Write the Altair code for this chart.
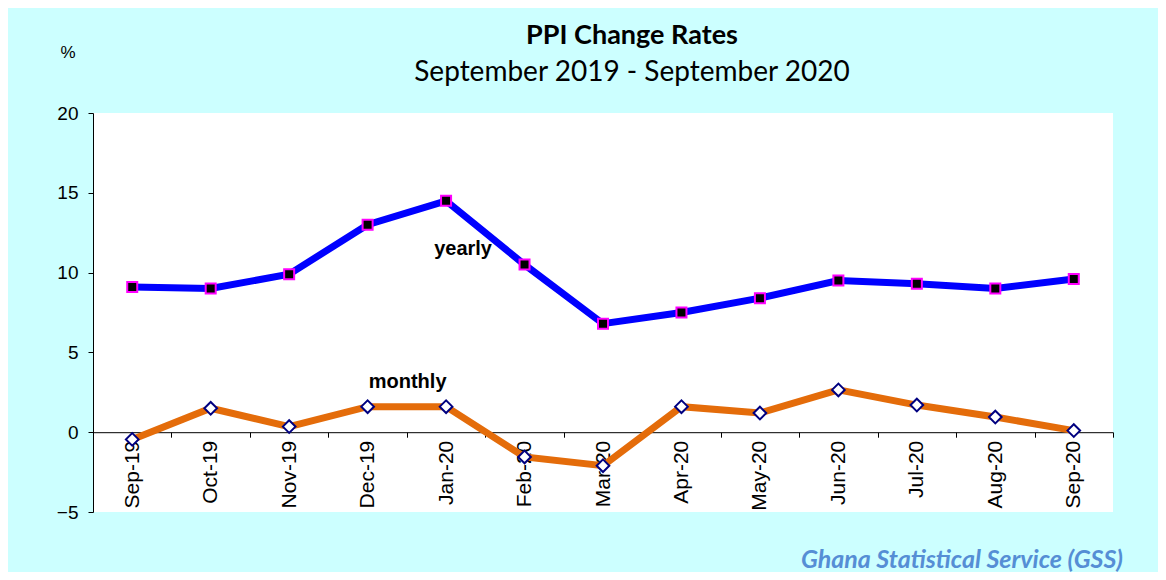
import altair as alt
import pandas as pd

months = ["Sep-19", "Oct-19", "Nov-19", "Dec-19", "Jan-20", "Feb-20", "Mar-20",
          "Apr-20", "May-20", "Jun-20", "Jul-20", "Aug-20", "Sep-20"]
yearly = [9.1, 9.0, 9.9, 13.0, 14.5, 10.5, 6.8, 7.5, 8.4, 9.5, 9.3, 9.0, 9.6]
monthly = [-0.45, 1.5, 0.35, 1.6, 1.6, -1.55, -2.1, 1.6, 1.2, 2.65, 1.7, 0.95, 0.1]
y_ticks = [-5, 0, 5, 10, 15, 20]

W, H = 1020, 399
ymin, ymax = -5, 20

dy = pd.DataFrame({"month": months, "value": yearly})
dm = pd.DataFrame({"month": months, "value": monthly})

x_enc = alt.X("month:N", sort=months,
              scale=alt.Scale(type="band", paddingInner=0, paddingOuter=0),
              axis=alt.Axis(title=None, labelAngle=-90, labelFont="Liberation Sans",
                            labelFontSize=21, labelColor="black", labelPadding=3,
                            domainColor="black", domainWidth=1, tickColor="black",
                            tickSize=5, tickBand="extent", zindex=0,
                            offset=-H * (0 - ymin) / (ymax - ymin)))
y_enc = alt.Y("value:Q", scale=alt.Scale(domain=[ymin, ymax], nice=False, zero=False),
              axis=alt.Axis(values=y_ticks, title=None,
                            labelFont="Liberation Sans", labelFontSize=19, labelColor="black",
                            labelPadding=10, domainColor="black", tickColor="black",
                            tickSize=5, grid=False, zindex=0))

base_y = alt.Chart(dy).encode(x=x_enc, y=y_enc)
base_m = alt.Chart(dm).encode(x=x_enc, y=y_enc)

line_y = base_y.mark_line(color="#0000FF", strokeWidth=7)
pts_y = base_y.mark_point(shape="square", filled=True, fill="black", stroke="#FF00FF",
                          strokeWidth=2, size=100, opacity=1)
line_m = base_m.mark_line(color="#E46C0A", strokeWidth=7)
pts_m = base_m.mark_point(shape="diamond", filled=True, fill="white", stroke="#000080",
                          strokeWidth=2, size=160, opacity=1)

lab_df = pd.DataFrame({"month": ["Jan-20", "Dec-19"], "value": [11.5, 3.15],
                       "text": ["yearly", "monthly"]})
lab_y = alt.Chart(lab_df.iloc[[0]]).mark_text(font="Liberation Sans", fontSize=20,
                                              fontWeight="bold", color="black", dx=17).encode(
    x=alt.X("month:N", sort=months), y="value:Q", text="text:N")
lab_m = alt.Chart(lab_df.iloc[[1]]).mark_text(font="Liberation Sans", fontSize=20,
                                              fontWeight="bold", color="black", dx=40).encode(
    x=alt.X("month:N", sort=months), y="value:Q", text="text:N")

title_txt = alt.Chart(pd.DataFrame({"t": ["PPI Change Rates"]})).mark_text(
    font="Lato", fontSize=27, fontWeight="bold", color="black", align="center",
    baseline="alphabetic").encode(x=alt.value(539), y=alt.value(-69), text="t:N")
subtitle_txt = alt.Chart(pd.DataFrame({"t": ["September 2019 - September 2020"]})).mark_text(
    font="Lato", fontSize=28, color="black", align="center",
    baseline="alphabetic").encode(x=alt.value(539), y=alt.value(-32), text="t:N")

pct = alt.Chart(pd.DataFrame({"t": ["%"]})).mark_text(
    font="Liberation Sans", fontSize=17, color="black", align="center",
    baseline="middle").encode(x=alt.value(-25), y=alt.value(-60), text="t:N")

footer = alt.Chart(pd.DataFrame({"t": ["Ghana Statistical Service (GSS)"]})).mark_text(
    font="Lato", fontSize=25, fontStyle="italic", fontWeight="bold", color="#558ED5",
    align="right", baseline="alphabetic").encode(
    x=alt.value(W + 10), y=alt.value(H + 56), text="t:N")

chart = alt.layer(line_y, line_m, pts_y, pts_m, lab_y, lab_m,
                  title_txt, subtitle_txt, pct, footer).properties(
    width=W, height=H,
    autosize=alt.AutoSizeParams(type="none"),
    padding={"left": 85, "top": 105, "right": 45, "bottom": 60},
    background="#CCFFFF",
).configure_view(fill="white", strokeWidth=0)

chart.save("out.html", embed_options={"renderer": "svg", "actions": False})
